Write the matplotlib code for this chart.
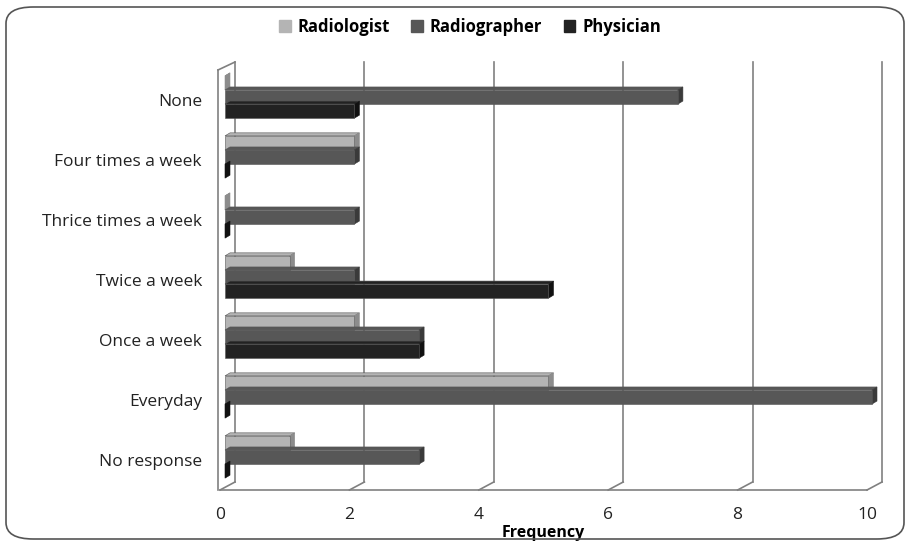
import numpy as np
import matplotlib.pyplot as plt
from matplotlib.patches import Polygon, FancyBboxPatch

categories = ["None", "Four times a week", "Thrice times a week", "Twice a week",
              "Once a week", "Everyday", "No response"]
radiologist = [0, 2, 0, 1, 2, 5, 1]
radiographer = [7, 2, 2, 2, 3, 10, 3]
physician = [2, 0, 0, 5, 3, 0, 0]

series = [("Radiologist", radiologist, "#b4b4b4", "#8c8c8c"),
          ("Radiographer", radiographer, "#575757", "#3a3a3a"),
          ("Physician", physician, "#222222", "#111111")]

plt.rcParams['font.family'] = ['Open Sans', 'DejaVu Sans']

fig = plt.figure(figsize=(9.12, 5.45), dpi=100)
W, H = 912, 545
# plot area (pixels): x 0 -> 220, 10 -> 867 ; y front top 70, floor 490
ax = fig.add_axes([220 / W, 1 - 490 / H, 647 / W, 420 / H])
ax.set_xlim(0, 10)
ax.set_ylim(6.5, -0.5)

px_x = 10 / 647
px_y = 7 / 420
# depth of the back wall
dx = 15 * px_x
dy = -8 * px_y
# bars sit half way back, with a small depth of their own
bx = 5 * px_x
by = -3 * px_y
ex = 5 * px_x
ey = -3 * px_y

grid = "#808080"
for v in range(0, 11, 2):
    ax.plot([v, v + dx], [6.5, 6.5 + dy], color=grid, lw=1.2, clip_on=False, zorder=1)
    ax.plot([v + dx, v + dx], [6.5 + dy, -0.5 + dy], color=grid, lw=1.2,
            clip_on=False, zorder=1)
ax.plot([0, 10], [6.5, 6.5], color=grid, lw=1.2, clip_on=False, zorder=1)
# left wall
ax.plot([-2 * px_x, -2 * px_x], [6.5, -0.5], color=grid, lw=1.2, clip_on=False, zorder=1)
ax.plot([-2 * px_x, dx], [-0.5, -0.5 + dy], color=grid, lw=1.2, clip_on=False, zorder=1)

h = 0.235
offsets = [-h, 0, h]
for k, (name, vals, col, side) in enumerate(series):
    off = offsets[k]
    for i, v in enumerate(vals):
        y0 = i + off - h / 2 + by
        y1 = i + off + h / 2 + by
        x0 = bx
        x1 = bx + v
        z = 3 + i * 3 + k
        # top face
        ax.add_patch(Polygon([(x0, y0), (x0 + ex, y0 + ey), (x1 + ex, y0 + ey), (x1, y0)],
                             closed=True, facecolor=col, edgecolor="#555555",
                             lw=0.4, zorder=z, clip_on=False))
        # end face
        ax.add_patch(Polygon([(x1, y0), (x1 + ex, y0 + ey), (x1 + ex, y1 + ey), (x1, y1)],
                             closed=True, facecolor=side, edgecolor=side,
                             lw=0.4, zorder=z, clip_on=False))
        if v > 0:
            ax.barh(i + off + by, v, left=x0, height=h, color=col, edgecolor="#555555",
                    linewidth=0.4, zorder=z + 0.5, clip_on=False)

for s in ax.spines.values():
    s.set_visible(False)
ax.set_yticks(range(len(categories)))
ax.set_yticklabels(categories, fontsize=12.5, color="#222222")
ax.set_xticks(range(0, 11, 2))
ax.tick_params(axis="both", length=0, colors="#222222")
ax.tick_params(axis="x", labelsize=12.5, pad=12)
ax.tick_params(axis="y", pad=13)
ax.set_xlabel("Frequency", fontsize=11.5, fontweight="bold", labelpad=2)

handles = [plt.Rectangle((0, 0), 1, 1, color=c) for _, _, c, _ in series]
fig.legend(handles, [n for n, _, _, _ in series], loc="center",
           bbox_to_anchor=(470 / W, 1 - 27 / H), ncol=3, frameon=False,
           handlelength=0.7, handleheight=0.7, columnspacing=1.3, handletextpad=0.4,
           prop={'weight': 'bold', 'size': 12})

fig.patches.append(FancyBboxPatch((6 / W, 6 / H), 898 / W, 532 / H,
                                  boxstyle="round,pad=0,rounding_size=0.03",
                                  transform=fig.transFigure, fill=False,
                                  edgecolor="#555555", lw=1.2))

fig.savefig("out.png", dpi=100)
